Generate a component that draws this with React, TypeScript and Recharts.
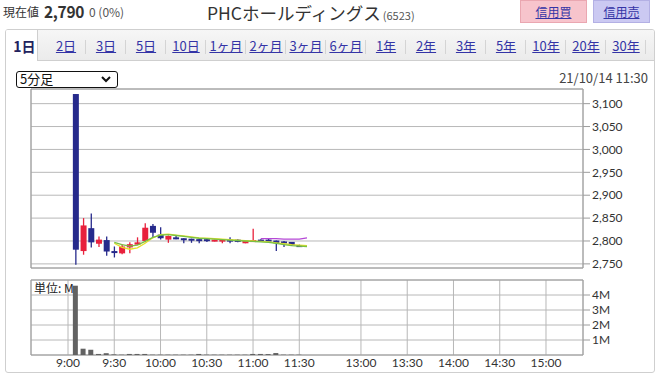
import { Bar, CartesianGrid, ComposedChart, Line, ReferenceArea, XAxis, YAxis } from "recharts";

const FONT = "'Noto Sans CJK JP', 'Noto Sans', sans-serif";
const TICK_FONT = "Lato, 'Noto Sans', sans-serif";
const UP = "#e8213c";
const DOWN = "#262a8c";
const GRID = "#b8b8b8";
const FRAME = "#9c9c9c";

// 5分足, 9:00 – 11:30 (one entry per bar)
const OPEN = [3121, 2778, 2828, 2794, 2802, 2778, 2773, 2786, 2792, 2800, 2833, 2814, 2803, 2808, 2806, 2805, 2804, 2804, 2801, 2801, 2803, 2803, 2795, 2801, 2803, 2803, 2801, 2799, 2798, 2791];
const HIGH = [3121, 2850, 2860, 2810, 2810, 2788, 2793, 2797, 2808, 2839, 2837, 2830, 2812, 2811, 2806, 2805, 2804, 2805, 2803, 2803, 2808, 2804, 2802, 2827, 2804, 2805, 2801, 2800, 2798, 2792];
const LOW = [2748, 2770, 2786, 2787, 2768, 2764, 2771, 2773, 2792, 2797, 2808, 2803, 2796, 2804, 2795, 2796, 2795, 2798, 2799, 2795, 2795, 2797, 2795, 2800, 2801, 2800, 2778, 2787, 2789, 2789];
const CLOSE = [2781, 2834, 2797, 2803, 2777, 2775, 2788, 2793, 2797, 2829, 2818, 2806, 2811, 2804, 2802, 2802, 2803, 2801, 2803, 2803, 2799, 2798, 2801, 2802, 2802, 2801, 2795, 2795, 2791, 2790];
const VOLUME_M = [4.62, 0.42, 0.35, 0.07, 0.12, 0.04, 0.02, 0.07, 0.07, 0.07, 0.02, 0.02, 0.02, 0.02, 0.02, 0.02, 0.07, 0.02, 0.02, 0.02, 0.02, 0.02, 0.02, 0.07, 0.07, 0.06, 0.13, 0.02, 0.02, 0.02];

// averages run one slot past the last bar
const MA_YELLOW = [null, null, null, null, null, 2795, 2786, 2782, 2785, 2795, 2807, 2814, 2815, 2813, 2811, 2809, 2807, 2806, 2805, 2804, 2803, 2802, 2801, 2800, 2799, 2798, 2796, 2794, 2792, 2791, 2790];
const MA_GREEN = [null, null, null, null, null, 2797, 2792, 2789, 2791, 2799, 2808, 2813, 2814, 2812, 2810, 2808, 2806, 2805, 2804, 2803, 2802, 2801, 2800, 2799, 2798, 2797, 2795, 2792, 2790, 2789, 2788];
const MA_PURPLE = [null, null, null, null, null, null, null, null, null, null, null, null, null, null, null, null, null, null, null, null, null, null, null, null, 2805, 2805, 2805, 2804, 2804, 2804, 2807];

const PRICE_TICKS = [2750, 2800, 2850, 2900, 2950, 3000, 3050, 3100];
const VOLUME_TICKS = [1, 2, 3, 4];
// x is counted in 5-minute slots from 9:00; the lunch break is squeezed to 2 slots
const TIME_SLOTS = [0, 6, 12, 18, 24, 30, 38, 44, 50, 56, 62];
const TIME_LABELS = ["9:00", "9:30", "10:00", "10:30", "11:00", "11:30", "13:00", "13:30", "14:00", "14:30", "15:00"];
const X_DOMAIN: [number, number] = [-4.8, 66.8];
const PRICE_DOMAIN: [number, number] = [2741, 3132];

const TABS = ["2日", "3日", "5日", "10日", "1ヶ月", "2ヶ月", "3ヶ月", "6ヶ月", "1年", "2年", "3年", "5年", "10年", "20年", "30年"];

type Row = {
  slot: number;
  open: number | null;
  high: number | null;
  low: number | null;
  close: number | null;
  vol: number | null;
  maY: number | null;
  maG: number | null;
  maP: number | null;
};

const rows: Row[] = MA_GREEN.map((_, i) => ({
  slot: i + 1,
  open: OPEN[i] ?? null,
  high: HIGH[i] ?? null,
  low: LOW[i] ?? null,
  close: CLOSE[i] ?? null,
  vol: VOLUME_M[i] ?? null,
  maY: MA_YELLOW[i],
  maG: MA_GREEN[i],
  maP: MA_PURPLE[i],
}));

const timeLabel = (v: number) => TIME_LABELS[TIME_SLOTS.indexOf(v)] ?? "";

function Candle(props: any) {
  const { x, y, width, height, payload } = props;
  if (payload == null || payload.high == null) return null;
  const top = Math.min(y, y + height);
  const span = Math.abs(height);
  const range = payload.high - payload.low;
  const yOf = (v: number) => top + (range ? ((payload.high - v) / range) * span : 0);
  const color = payload.close >= payload.open ? UP : DOWN;
  const bodyTop = yOf(Math.max(payload.open, payload.close));
  const bodyBottom = yOf(Math.min(payload.open, payload.close));
  const cx = x + width / 2;
  return (
    <g>
      <line x1={cx} x2={cx} y1={top} y2={top + Math.max(span, 1)} stroke={color} strokeWidth={1.3} />
      <rect x={x} y={bodyTop} width={width} height={Math.max(bodyBottom - bodyTop, 2)} fill={color} />
    </g>
  );
}

const tickStyle = { fill: "#333", fontSize: 12, fontFamily: TICK_FONT };

function PriceChart() {
  return (
    <ComposedChart width={660} height={280} data={rows} margin={{ top: 89, right: 0, bottom: 12, left: 31 }}>
      <CartesianGrid stroke={GRID} />
      <XAxis
        type="number"
        dataKey="slot"
        domain={X_DOMAIN}
        allowDataOverflow
        ticks={TIME_SLOTS}
        interval={0}
        height={0}
        tick={false}
        axisLine={false}
        tickLine={false}
      />
      <YAxis
        orientation="right"
        width={77}
        domain={PRICE_DOMAIN}
        allowDataOverflow
        ticks={PRICE_TICKS}
        interval={0}
        tickFormatter={(v: number) => v.toLocaleString("en-US")}
        tick={tickStyle}
        tickSize={7}
        tickLine={{ stroke: FRAME }}
        axisLine={false}
      />
      <ReferenceArea x1={X_DOMAIN[0]} x2={X_DOMAIN[1]} y1={PRICE_DOMAIN[0]} y2={PRICE_DOMAIN[1]} fill="none" stroke={FRAME} />
      <Bar
        dataKey={(d: Row) => (d.high == null ? null : [d.low, d.high])}
        barSize={6}
        shape={(p: any) => <Candle {...p} />}
        isAnimationActive={false}
      />
      <Line dataKey="maY" stroke="#e4e12a" strokeWidth={1.3} dot={false} isAnimationActive={false} />
      <Line dataKey="maG" stroke="#79c145" strokeWidth={1.3} dot={false} isAnimationActive={false} />
      <Line dataKey="maP" stroke="#b548d6" strokeWidth={1.3} dot={false} isAnimationActive={false} />
    </ComposedChart>
  );
}

function VolumeChart() {
  return (
    <ComposedChart width={660} height={105} data={rows} margin={{ top: 10, right: 0, bottom: 0, left: 31 }}>
      <CartesianGrid stroke={GRID} />
      <XAxis
        type="number"
        dataKey="slot"
        domain={X_DOMAIN}
        allowDataOverflow
        ticks={TIME_SLOTS}
        interval={0}
        tickFormatter={timeLabel}
        height={20}
        tick={tickStyle}
        tickSize={0}
        tickMargin={3}
        axisLine={false}
      />
      <YAxis
        orientation="right"
        width={77}
        domain={[0, 5]}
        allowDataOverflow
        ticks={VOLUME_TICKS}
        interval={0}
        tickFormatter={(v: number) => `${v}M`}
        tick={tickStyle}
        tickSize={7}
        tickLine={{ stroke: FRAME }}
        axisLine={false}
      />
      <ReferenceArea x1={X_DOMAIN[0]} x2={X_DOMAIN[1]} y1={0} y2={5} fill="none" stroke={FRAME} />
      <Bar dataKey="vol" barSize={5} fill="#626262" isAnimationActive={false} />
    </ComposedChart>
  );
}

export default function App() {
  return (
    <div
      style={{
        position: "absolute",
        left: 0,
        top: 0,
        width: 660,
        height: 375,
        background: "#fff",
        overflow: "hidden",
        fontFamily: FONT,
        color: "#333",
      }}
    >
      {/* quote header */}
      <div style={{ position: "absolute", left: 3, top: 3, fontSize: 12, lineHeight: "18px" }}>現在値</div>
      <div style={{ position: "absolute", left: 44, top: 0, fontSize: 15.5, fontWeight: 700, lineHeight: "22px", letterSpacing: -0.3 }}>2,790</div>
      <div style={{ position: "absolute", left: 89, top: 3, fontSize: 12, lineHeight: "18px", color: "#555" }}>0 (0%)</div>
      <div style={{ position: "absolute", left: 207, top: 0, fontSize: 17.5, lineHeight: "26px", whiteSpace: "nowrap" }}>
        PHCホールディングス<span style={{ fontSize: 11, color: "#555", marginLeft: 2 }}>(6523)</span>
      </div>
      <div style={btnStyle(520, 67, "#f7c4cc", "#eaa7b1")}>信用買</div>
      <div style={btnStyle(593, 57, "#cbc9f2", "#b3b0e4")}>信用売</div>

      {/* panel with period tabs */}
      <div
        style={{
          position: "absolute",
          left: 5,
          top: 29,
          width: 650,
          height: 344,
          border: "1px solid #cfcfcf",
          borderRadius: 3,
          boxSizing: "border-box",
          overflow: "hidden",
        }}
      >
        <div
          style={{
            position: "absolute",
            left: 0,
            top: 0,
            width: 648,
            height: 30,
            background: "linear-gradient(#f6f6f6, #ebebeb)",
            borderBottom: "1px solid #cfcfcf",
          }}
        />
        <div
          style={{
            position: "absolute",
            left: 0,
            top: 0,
            width: 32,
            height: 31,
            background: "#fff",
            borderRight: "1px solid #cfcfcf",
            boxSizing: "border-box",
            display: "flex",
            alignItems: "center",
            justifyContent: "center",
            fontSize: 14,
            fontWeight: 700,
            color: "#22225e",
            paddingLeft: 6,
          }}
        >
          1日
        </div>
        <div style={{ position: "absolute", left: 40, top: 0, height: 30, display: "flex" }}>
          {TABS.map((t) => (
            <div
              key={t}
              style={{
                position: "relative",
                width: 40,
                height: 30,
                display: "flex",
                alignItems: "center",
                justifyContent: "center",
                fontSize: 13,
                color: "#3434a6",
                textDecoration: "underline",
              }}
            >
              {t}
              <div style={{ position: "absolute", right: 0, top: 10, width: 1, height: 14, background: "#d4d4d4" }} />
            </div>
          ))}
        </div>
      </div>

      {/* bar interval selector and timestamp */}
      <div
        style={{
          position: "absolute",
          left: 16,
          top: 71,
          width: 102,
          height: 17,
          border: "1.5px solid #111",
          borderRadius: 3,
          boxSizing: "border-box",
          background: "#fff",
          fontSize: 13,
          lineHeight: "14px",
          paddingLeft: 3,
          color: "#111",
        }}
      >
        5分足
        <svg width={10} height={7} style={{ position: "absolute", right: 6, top: 4 }}>
          <polyline points="1,1 5,5 9,1" fill="none" stroke="#111" strokeWidth={2} />
        </svg>
      </div>
      <div style={{ position: "absolute", right: 12, top: 69, fontSize: 13, lineHeight: "17px", color: "#444" }}>21/10/14 11:30</div>

      <div style={{ position: "absolute", left: 0, top: 0 }}>
        <PriceChart />
      </div>
      <div style={{ position: "absolute", left: 0, top: 270 }}>
        <VolumeChart />
      </div>
      <div style={{ position: "absolute", left: 34, top: 280, fontSize: 12, lineHeight: "16px", color: "#222" }}>単位: M</div>
    </div>
  );
}

function btnStyle(left: number, width: number, bg: string, border: string): React.CSSProperties {
  return {
    position: "absolute",
    left,
    top: 0,
    width,
    height: 23,
    background: bg,
    border: `1px solid ${border}`,
    boxSizing: "border-box",
    display: "flex",
    alignItems: "center",
    justifyContent: "center",
    fontSize: 12,
    color: "#3434a6",
    textDecoration: "underline",
  };
}
